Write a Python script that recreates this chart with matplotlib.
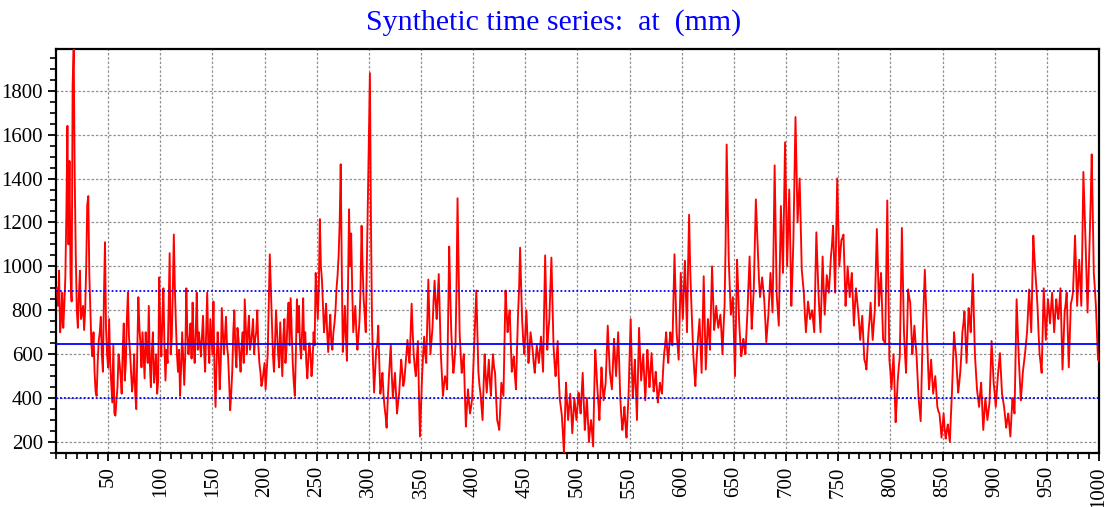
import matplotlib
matplotlib.use("Agg")
import matplotlib.pyplot as plt
from matplotlib.ticker import MultipleLocator
import numpy as np

# readings at odd steps (1, 3, ..., 999)
at_odd = [
    900, 980, 760, 720, 950, 1640, 1480, 840, 1990, 1050, 720, 980, 790, 710, 1000, 1320, 800, 590, 520, 410, 660, 770, 520, 1110, 600,
    760, 470, 640, 320, 450, 560, 420, 740, 560, 880, 610, 430, 600, 350, 860, 650, 700, 490, 620, 820, 450, 700, 530, 420, 950,
    590, 900, 480, 560, 1060, 670, 1145, 740, 520, 410, 700, 460, 900, 600, 740, 835, 560, 880, 700, 590, 775, 520, 880, 560, 680,
    840, 360, 700, 440, 810, 600, 770, 590, 345, 520, 800, 540, 670, 520, 700, 850, 600, 775, 650, 760, 670, 800, 560, 455, 520,
    440, 600, 1055, 760, 520, 800, 600, 745, 500, 760, 620, 835, 855, 560, 410, 850, 820, 580, 855, 700, 490, 650, 500, 700, 970,
    760, 1215, 940, 700, 830, 610, 780, 620, 740, 900, 1050, 1465, 610, 820, 570, 1260, 1150, 700, 820, 620, 750, 1185, 850, 700, 1280,
    1880, 740, 425, 620, 730, 420, 515, 360, 265, 480, 645, 400, 515, 330, 420, 575, 455, 540, 665, 560, 830, 600, 500, 660, 225,
    500, 680, 560, 940, 600, 720, 935, 760, 965, 600, 410, 500, 440, 1090, 700, 515, 640, 1310, 700, 515, 600, 270, 440, 330, 400,
    640, 890, 520, 420, 300, 600, 425, 575, 410, 600, 515, 300, 255, 470, 410, 890, 700, 800, 520, 590, 440, 780, 1085, 750, 600,
    800, 560, 700, 620, 515, 640, 560, 680, 520, 1050, 620, 760, 1040, 640, 500, 660, 395, 320, 150, 470, 300, 420, 240, 400, 300,
    425, 330, 515, 255, 400, 200, 300, 180, 620, 450, 300, 540, 390, 470, 730, 520, 440, 670, 500, 700, 400, 255, 360, 220, 420,
    760, 400, 575, 300, 720, 480, 600, 390, 620, 450, 605, 430, 520, 380, 470, 420, 600, 700, 560, 700, 640, 1055, 700, 575, 970,
    760, 1025, 700, 1235, 850, 600, 455, 640, 760, 515, 955, 530, 760, 620, 1000, 710, 820, 720, 780, 600, 820, 1555, 1030, 780, 860,
    500, 1030, 745, 590, 670, 600, 800, 1045, 715, 895, 1305, 1045, 860, 950, 850, 655, 780, 970, 790, 1460, 870, 730, 1275, 970, 1565,
    1000, 1350, 820, 1120, 1680, 1200, 1400, 985, 880, 700, 840, 760, 800, 700, 1155, 880, 700, 1045, 780, 960, 880, 1045, 1185, 880, 1400,
    1000, 1120, 1145, 820, 1000, 860, 970, 730, 900, 800, 665, 775, 575, 530, 700, 835, 665, 800, 1170, 820, 970, 665, 645, 1300, 575,
    440, 600, 290, 480, 590, 1175, 700, 515, 895, 835, 600, 730, 600, 400, 295, 700, 985, 700, 440, 575, 420, 500, 360, 330, 220,
    330, 215, 280, 200, 425, 700, 590, 425, 520, 700, 795, 560, 810, 700, 965, 600, 440, 360, 470, 255, 400, 300, 380, 660, 470,
    360, 500, 605, 420, 360, 265, 330, 225, 400, 330, 850, 590, 390, 520, 600, 700, 895, 700, 1140, 970, 820, 600, 515, 900, 665,
    850, 740, 880, 700, 850, 760, 900, 530, 790, 880, 540, 830, 880, 1140, 820, 1030, 820, 1430, 1125, 790, 1120, 1510, 970, 820, 575,
]

# readings at even steps (2, 4, ..., 1000)
at_even = [
    820, 700, 880, 820, 1250, 1100, 950, 1830, 1400, 800, 870, 760, 820, 800, 1280, 960, 640, 700, 430, 560, 700, 600, 860, 720, 540,
    560, 380, 330, 390, 600, 500, 620, 480, 760, 680, 520, 480, 420, 620, 720, 540, 600, 700, 560, 560, 620, 470, 600, 480, 720,
    760, 640, 620, 820, 600, 880, 900, 600, 620, 540, 580, 600, 700, 660, 580, 640, 700, 620, 650, 680, 620, 700, 650, 760, 600,
    520, 560, 620, 560, 700, 680, 640, 480, 420, 700, 620, 720, 600, 640, 560, 720, 700, 620, 700, 600, 700, 640, 520, 480, 560,
    520, 820, 900, 600, 650, 700, 540, 620, 680, 560, 760, 640, 700, 470, 600, 700, 640, 700, 620, 560, 580, 600, 560, 640, 880,
    900, 1000, 820, 760, 700, 700, 650, 700, 800, 960, 1200, 1000, 700, 680, 900, 1000, 900, 760, 700, 680, 900, 1000, 780, 1000, 1600,
    1200, 560, 520, 640, 560, 460, 420, 320, 380, 560, 500, 460, 420, 380, 500, 520, 480, 600, 600, 700, 700, 540, 580, 420, 360,
    600, 600, 760, 760, 660, 840, 840, 860, 780, 500, 460, 480, 760, 880, 600, 560, 900, 1000, 600, 560, 420, 360, 380, 360, 520,
    760, 700, 460, 360, 460, 500, 500, 480, 520, 540, 400, 280, 360, 440, 640, 800, 760, 660, 560, 500, 620, 900, 900, 660, 700,
    680, 620, 660, 560, 580, 600, 620, 600, 800, 840, 700, 900, 840, 560, 580, 500, 360, 240, 320, 380, 360, 340, 320, 350, 360,
    380, 420, 380, 320, 300, 260, 240, 420, 540, 380, 420, 460, 430, 600, 620, 480, 560, 580, 600, 560, 320, 300, 280, 320, 600,
    560, 480, 440, 520, 600, 540, 500, 500, 540, 520, 520, 470, 450, 420, 440, 520, 640, 620, 640, 660, 850, 880, 640, 780, 860,
    900, 860, 1000, 1000, 720, 520, 560, 700, 640, 740, 740, 640, 700, 820, 860, 760, 760, 750, 700, 720, 1100, 1300, 900, 820, 680,
    760, 900, 660, 620, 640, 700, 920, 880, 800, 1100, 1180, 940, 900, 900, 760, 720, 880, 880, 1100, 1160, 800, 1000, 1120, 1260, 1300,
    1180, 1100, 960, 1400, 1440, 1300, 1200, 930, 780, 770, 800, 780, 750, 920, 1020, 790, 870, 900, 870, 920, 960, 1100, 1040, 1140, 1200,
    1060, 1130, 980, 900, 930, 920, 850, 820, 850, 740, 720, 680, 560, 620, 760, 750, 730, 980, 1000, 900, 820, 660, 960, 940, 520,
    520, 440, 380, 540, 880, 940, 600, 700, 860, 720, 660, 660, 500, 350, 500, 840, 840, 560, 500, 500, 460, 430, 340, 280, 270,
    260, 250, 240, 320, 560, 640, 500, 470, 600, 740, 680, 680, 760, 830, 780, 520, 400, 420, 360, 330, 350, 340, 520, 560, 420,
    430, 550, 510, 390, 310, 300, 280, 310, 360, 600, 720, 490, 450, 560, 650, 800, 800, 920, 1050, 900, 700, 560, 700, 780, 760,
    800, 810, 790, 780, 800, 830, 720, 660, 830, 710, 690, 850, 1000, 980, 920, 930, 1100, 1280, 960, 950, 1300, 1240, 900, 700, 570,
]

# long-term level and one standard deviation either side
mean_level = 645
spread = 245

steps = np.arange(1, 1001)
at_mm = np.empty(steps.size)
at_mm[0::2] = at_odd
at_mm[1::2] = at_even

x_major = np.arange(50, 1001, 50)
y_major = np.arange(200, 1801, 200)

plt.rcParams['font.family'] = ['Liberation Serif', 'DejaVu Serif']

fig = plt.figure(figsize=(11.08, 5.07), dpi=100)
ax = fig.add_axes([0.0505, 0.1065, 0.9414, 0.7969])

ax.plot(steps, at_mm, color='red', linewidth=1.35, zorder=3)
ax.axhline(mean_level, color='#0000ff', linewidth=1.3, zorder=4)
ax.axhline(mean_level + spread, color='#0000ff', linewidth=1.3, linestyle=(0, (1, 1.2)), zorder=4)
ax.axhline(mean_level - spread, color='#0000ff', linewidth=1.3, linestyle=(0, (1, 1.2)), zorder=4)

ax.set_xlim(0, 1000)
ax.set_ylim(150, 1990)
ax.set_xticks(x_major)
ax.set_xticklabels([str(v) for v in x_major], rotation=90)
ax.set_yticks(y_major)
ax.xaxis.set_minor_locator(MultipleLocator(10))
ax.yaxis.set_minor_locator(MultipleLocator(50))
ax.tick_params(which='major', direction='out', length=6, width=1.3, labelsize=15, colors='black')
ax.tick_params(which='minor', direction='out', length=4, width=1.2)
ax.grid(True, which='major', color='#909090', linestyle=(0, (2, 1.5)), linewidth=0.9, zorder=1)

for side in ['left', 'bottom', 'top', 'right']:
    ax.spines[side].set_linewidth(1.6)

fig.text(0.5, 0.955, 'Synthetic time series:  at  (mm)', ha='center', va='center',
         color='#0000ff', fontsize=21.5)

fig.savefig('out.png', dpi=100)
